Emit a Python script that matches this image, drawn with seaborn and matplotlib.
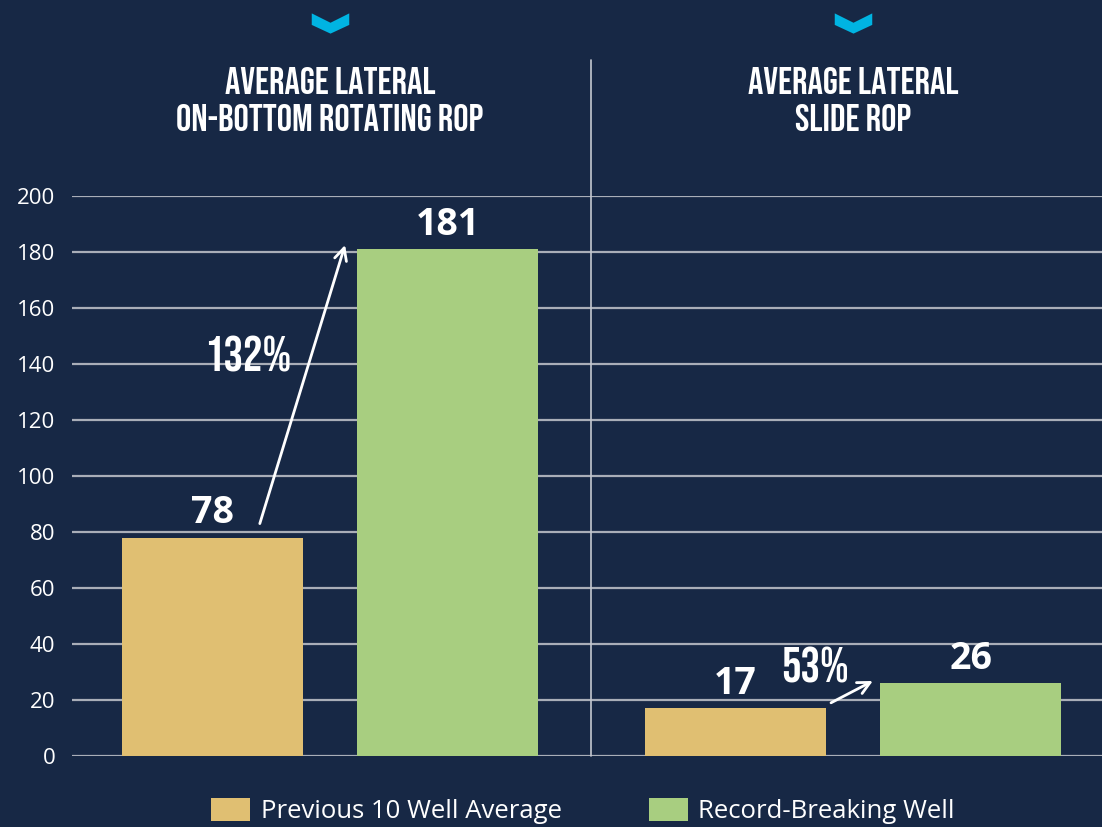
import numpy as np
import pandas as pd
import seaborn as sns
import matplotlib
matplotlib.use("Agg")
import matplotlib.pyplot as plt
from matplotlib.path import Path
from matplotlib import font_manager as fm
from matplotlib.transforms import blended_transform_factory

# ---- data ----
categories = ["AVERAGE LATERAL\nON-BOTTOM ROTATING ROP", "AVERAGE LATERAL\nSLIDE ROP"]
series = ["Previous 10 Well Average", "Record-Breaking Well"]
previous_avg = [78, 17]
record_well = [181, 26]
y_ticks = [0, 20, 40, 60, 80, 100, 120, 140, 160, 180, 200]

BG = "#172845"
ORANGE = "#e0bf72"
GREEN = "#a8ce80"
GRID = "#a9aeb8"
CYAN = "#00b4e2"

names = {f.name for f in fm.fontManager.ttflist}
COND = next((n for n in ["Bebas Neue", "Oswald", "Roboto Condensed", "Open Sans Condensed",
                         "DejaVu Sans Condensed", "Liberation Sans Narrow", "Roboto"] if n in names), "DejaVu Sans")
BODY = "Open Sans" if "Open Sans" in names else "DejaVu Sans"

sns.set_theme(style="dark")
plt.rcParams["font.family"] = [BODY, "DejaVu Sans"]

df = pd.DataFrame({
    "metric": categories * 2,
    "series": [series[0]] * 2 + [series[1]] * 2,
    "value": previous_avg + record_well,
})

W, H = 1102, 827
fig = plt.figure(figsize=(W / 100, H / 100), dpi=100, facecolor=BG)
ax = fig.add_axes([72 / W, 71 / H, (W - 72) / W, 560 / H])
ax.set_facecolor(BG)

sns.barplot(data=df, x="metric", y="value", hue="series", hue_order=series,
            palette=[ORANGE, GREEN], saturation=1, width=0.9, gap=0.23,
            ax=ax, legend=True, zorder=2, linewidth=0, edgecolor="none")

ax.set_xlim(-0.493, 1.476)
ax.set_ylim(0, 200)
ax.set_yticks(y_ticks)
ax.set_yticklabels([str(t) for t in y_ticks], color="white", fontsize=16, family=BODY)
ax.tick_params(axis="y", length=0, pad=12)
ax.set_xticks([])
ax.set_xlabel("")
ax.set_ylabel("")
for s in ax.spines.values():
    s.set_visible(False)
ax.yaxis.grid(True, color=GRID, lw=1.6, zorder=0)
ax.xaxis.grid(False)
ax.set_axisbelow(True)

# divider
ax.axvline(0.5, ymin=0, ymax=(756 - 60) / 560, color="#c4c8d0", lw=1.2, clip_on=False, zorder=1)

# value labels
for cont in ax.containers:
    ax.bar_label(cont, labels=[f"{v:.0f}" for v in cont.datavalues], padding=4,
                 color="white", fontsize=27, fontweight="bold", family=BODY)

# titles and chevrons
tr = blended_transform_factory(ax.transData, fig.transFigure)
chev = Path([(-1, 0.54), (0, 0.04), (1, 0.54), (1, -0.075), (0, -0.54), (-1, -0.075), (-1, 0.54)],
            [Path.MOVETO] + [Path.LINETO] * 5 + [Path.CLOSEPOLY])
baselines = [94, 131]
for i, cat in enumerate(categories):
    for line, base in zip(cat.split("\n"), baselines):
        ax.text(i, 1 - base / H, line, transform=tr, ha="center", va="baseline", color="white",
                fontsize=27.5, fontweight="bold", family=COND, fontstretch="condensed")
    ax.plot([i], [1 - 23 / H], transform=tr, marker=chev, markersize=27, color=CYAN,
            markeredgewidth=0, clip_on=False)

# growth arrows and percentages
growth = [(r - p) / p * 100 for p, r in zip(previous_avg, record_well)]
arrow_cfg = [((-0.134, 5.0), (0.029, 1.5), (-0.157, 143.5)),
             ((0.958, 2.0), (1.038, 0.8), (0.927, 32.5))]
for i, ((sx, sdy), (ex, edy), (tx, ty)) in enumerate(arrow_cfg):
    ax.annotate("", xy=(ex, record_well[i] + edy), xytext=(sx, previous_avg[i] + sdy),
                arrowprops=dict(arrowstyle="->", color="white", lw=2, mutation_scale=22,
                                shrinkA=0, shrinkB=0), zorder=5)
    ax.text(tx, ty, f"{growth[i]:.0f}%", ha="center", va="center", color="white",
            fontsize=35, fontweight="bold", family=COND, fontstretch="condensed", zorder=5)

# legend
sns.move_legend(ax, "center", bbox_to_anchor=(583 / W, 1 - 811 / H),
                bbox_transform=fig.transFigure, ncol=2, frameon=False, title=None,
                handlelength=1.52, handleheight=1.05, handletextpad=0.4, columnspacing=3.4,
                fontsize=18.5, labelcolor="white", borderpad=0)
for h in ax.get_legend().legend_handles:
    h.set_linewidth(0)

fig.savefig("out.png", dpi=100, facecolor=BG)
